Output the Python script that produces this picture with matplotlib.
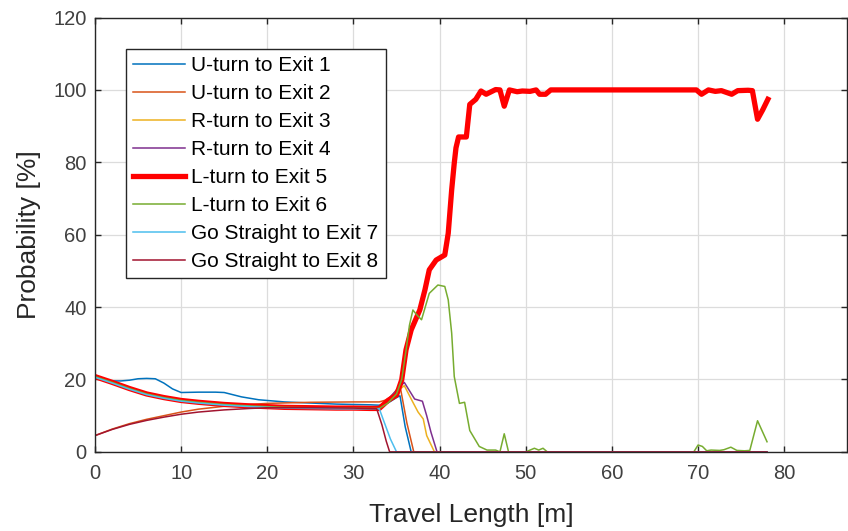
import matplotlib.pyplot as plt

plt.rcParams['font.family'] = ['Liberation Sans', 'DejaVu Sans']

labels = ["U-turn to Exit 1", "U-turn to Exit 2", "R-turn to Exit 3", "R-turn to Exit 4",
          "L-turn to Exit 5", "L-turn to Exit 6", "Go Straight to Exit 7", "Go Straight to Exit 8"]
colors = ["#0072BD", "#D95319", "#EDB120", "#7E2F8E", "#FF0000", "#77AC30", "#4DBEEE", "#A2142F"]

# U-turn to Exit 1
x1 = [0, 1, 2, 3, 4, 5, 6, 7, 8, 9, 10, 12, 14, 15, 16, 17, 18, 19, 20, 22, 25, 28, 30, 32, 33,
      34, 35, 35.4, 36, 36.7, 78]
y1 = [20.5, 20, 19.6, 19.6, 19.8, 20.2, 20.3, 20.2, 19, 17.4, 16.4, 16.5, 16.5, 16.4, 15.8, 15.2,
      14.8, 14.4, 14.2, 13.8, 13.5, 13.2, 13.1, 13.0, 12.9, 13.5, 15, 15.5, 7, 0, 0]

# U-turn to Exit 2
x2 = [0, 2, 4, 6, 8, 10, 12, 15, 18, 20, 25, 30, 33, 34, 34.6, 35.4, 36.2, 37.0, 78]
y2 = [4.5, 6.3, 7.8, 9.0, 10.0, 11.0, 11.8, 12.6, 13.1, 13.4, 13.7, 13.8, 13.8, 14.5, 16, 18.3,
      8, 0, 0]

# R-turn to Exit 3
x3 = [0, 2, 4, 6, 8, 10, 12, 15, 18, 20, 22, 25, 28, 30, 32, 33, 34, 35, 35.9, 36.9, 37.5,
      38.1, 38.5, 39.4, 78]
y3 = [20.9, 19.3, 17.6, 16.1, 15.1, 14.3, 13.8, 13.2, 12.8, 12.6, 12.4, 12.3, 12.2, 12.2, 12.1,
      12.1, 14, 16.5, 18.3, 13.7, 11, 9.1, 4.5, 0, 0]

# R-turn to Exit 4
x4 = [0, 2, 4, 6, 8, 10, 12, 15, 18, 20, 22, 25, 28, 30, 32, 33, 34, 35, 35.9, 37.1, 37.7,
      38.0, 38.5, 39.0, 39.7, 78]
y4 = [20.7, 19.1, 17.4, 15.9, 14.9, 14.1, 13.6, 13.0, 12.6, 12.4, 12.2, 12.1, 12.0, 12.0, 11.9,
      11.9, 14.5, 17, 19.2, 14.6, 14.2, 14.0, 10, 5.4, 0, 0]

# L-turn to Exit 5
x5 = [0, 2, 4, 6, 8, 10, 12, 15, 18, 20, 22, 25, 28, 30, 32, 33, 34, 35.0, 35.6, 36.1, 36.7,
      37.7, 38.3, 38.8, 39.6, 40.6, 41.0, 41.4, 41.7, 41.9, 42.2, 43.1, 43.5, 44.2, 44.8,
      45.4, 46.5, 47.0, 47.5, 48.1, 49.0, 49.6, 50.5, 51.2, 51.6, 52.3, 52.9, 55, 60, 65, 69.8,
      70.4, 71.2, 72.0, 72.7, 73.9, 74.6, 75.8, 76.3, 76.9, 77.5, 78.1]
y5 = [20.8, 19.2, 17.5, 16.0, 15.0, 14.2, 13.7, 13.1, 12.7, 12.5, 12.3, 12.2, 12.1, 12.1, 12.0,
      12.0, 14.2, 15.7, 19.9, 28.2, 33.7, 39.2, 44.8, 50.3, 53, 54.4, 60.4, 72.4, 79.8, 84, 87,
      87, 96, 97.4, 99.7, 98.8, 100.1, 100, 95.5, 100, 99.5, 99.7, 99.6, 100, 98.8, 98.8, 100,
      100, 100, 100, 100, 98.8, 100, 99.6, 99.8, 98.8, 99.8, 99.9, 99.8, 91.9, 94.5, 97.4]

# L-turn to Exit 6
x6 = [0, 2, 4, 6, 8, 10, 12, 15, 18, 20, 22, 25, 28, 30, 32, 33, 34, 35, 35.6, 36.1, 36.5,
      36.9, 37.3, 37.9, 38.8, 39.8, 40.6, 41.0, 41.4, 41.7, 42.3, 42.9, 43.5, 44.2, 44.6, 45.5,
      46.5, 47.0, 47.5, 48.0, 49, 50, 51, 51.5, 52, 52.5, 53, 60, 69.5, 70, 70.5, 71, 71.5, 72.5,
      73.0, 73.8, 74.5, 75.4, 76.0, 76.9, 78.0]
y6 = [20.8, 19.2, 17.5, 16.0, 15.0, 14.2, 13.7, 13.1, 12.7, 12.5, 12.3, 12.2, 12.1, 12.1, 12.0,
      12.0, 13.5, 16, 20, 28, 35, 39.2, 38, 36.5, 43.8, 46.1, 45.7, 42, 32.8, 20.8, 13.4, 13.7,
      5.9, 3.1, 1.5, 0.5, 0.5, 0, 5, 0, 0, 0, 1, 0.5, 1, 0, 0, 0, 0, 1.9, 1.5, 0.3, 0.5, 0.4,
      0.6, 1.3, 0.4, 0.3, 0.4, 8.6, 2.8]

# Go Straight to Exit 7
x7 = [0, 2, 4, 6, 8, 10, 12, 15, 18, 20, 22, 25, 28, 30, 32, 33, 33.6, 34.3, 35.0, 78]
y7 = [20.6, 19.0, 17.3, 15.8, 14.8, 14.0, 13.5, 12.9, 12.5, 12.3, 12.1, 12.0, 11.9, 11.9, 11.9,
      11.9, 8, 3.5, 0, 0]

# Go Straight to Exit 8
x8 = [0, 2, 4, 6, 8, 10, 12, 15, 18, 20, 25, 30, 32.7, 33.3, 33.8, 34.2, 78]
y8 = [4.5, 6.2, 7.6, 8.7, 9.6, 10.4, 11.0, 11.6, 12.0, 12.2, 12.2, 12.1, 11.9, 7.5, 3, 0, 0]

xs = [x1, x2, x3, x4, x5, x6, x7, x8]
ys = [y1, y2, y3, y4, y5, y6, y7, y8]

fig = plt.figure(figsize=(8.48, 5.31), dpi=100)
ax = fig.add_axes([0.112, 0.149, 0.887, 0.818])

for i in range(8):
    lw = 3.8 if i == 4 else 1.1
    ax.plot(xs[i], ys[i], color=colors[i], lw=lw, label=labels[i])

ax.set_xlim(0, 87.3)
ax.set_ylim(0, 120)
ax.set_xticks(range(0, 90, 10))
ax.set_yticks(range(0, 121, 20))
ax.grid(True, color="#dcdcdc", lw=0.9)
ax.set_axisbelow(True)
ax.tick_params(direction="in", top=True, right=True, labelsize=14.5, colors="#262626",
               labelcolor="#404040", length=4, width=1)
ax.tick_params(axis="x", pad=9)
ax.tick_params(axis="y", pad=6)
for sp in ax.spines.values():
    sp.set_color("#262626")
    sp.set_linewidth(1.0)
ax.set_xlabel("Travel Length [m]", fontsize=19, color="#262626", labelpad=14)
ax.set_ylabel("Probability [%]", fontsize=19, color="#262626", labelpad=9)

leg = ax.legend(loc="upper left", bbox_to_anchor=(0.041, 0.928), borderaxespad=0,
                fontsize=15, handlelength=2.5, handletextpad=0.3, labelspacing=0.43,
                fancybox=False, framealpha=1, edgecolor="#262626", borderpad=0.35)
leg.get_frame().set_linewidth(1.0)

fig.savefig("out.png", dpi=100)
